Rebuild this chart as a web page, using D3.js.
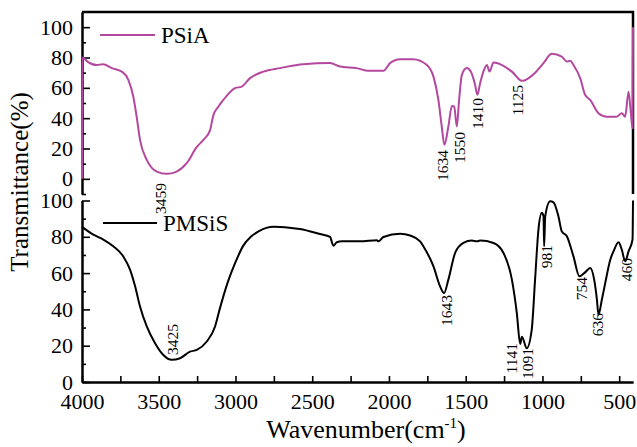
<!DOCTYPE html>
<html>
<head>
<meta charset="utf-8">
<script src="https://cdn.jsdelivr.net/npm/d3@7"></script>
<style>
  body { margin: 0; background: #fff; }
  text { font-family: "Liberation Serif", "Times New Roman", serif; }
</style>
</head>
<body>
<div id="chart"></div>
<script>
// PSiA spectrum (top panel)
const wnA = [4000, 3998, 3960, 3904, 3863, 3806, 3741, 3698, 3666, 3644, 3622, 3578, 3513, 3448, 3383, 3318, 3252, 3209, 3166, 3144, 3112, 3079, 3003, 2959, 2905, 2818, 2710, 2558, 2384, 2318, 2210, 2134, 2036, 1993, 1927, 1841, 1753, 1710, 1678, 1656, 1639, 1613, 1590, 1575, 1558, 1543, 1525, 1493, 1467, 1439, 1424, 1406, 1385, 1362, 1345, 1319, 1254, 1199, 1134, 1047, 993, 939, 874, 841, 819, 798, 754, 722, 689, 635, 581, 516, 483, 461, 439, 424, 413, 410];
const tA = [0, 80, 77, 75, 75.6, 73, 70.7, 65.3, 54.3, 41, 25.7, 12.5, 4.8, 3.3, 4.8, 10.3, 21, 25.7, 32, 42, 47.5, 52, 59.8, 60.8, 66.4, 70.7, 73, 75.6, 76.3, 74, 73, 71.2, 71.2, 76.3, 78.9, 78.9, 75.1, 67.4, 52, 34.5, 22.4, 34.5, 48.1, 47.7, 34.5, 52, 68.6, 73, 70.7, 62, 55.4, 63.1, 70.7, 75.1, 70.7, 76.7, 74.5, 70.7, 64.6, 70, 76.3, 82.4, 80.6, 77.3, 77.8, 75.1, 66.4, 55.4, 52, 43.3, 41, 41, 43.3, 41, 57.5, 43.3, 33.4, 100];

// PMSiS spectrum (bottom panel)
const wnB = [4000, 3926, 3861, 3796, 3731, 3687, 3654, 3622, 3578, 3524, 3470, 3416, 3361, 3296, 3252, 3187, 3133, 3101, 3050, 3000, 2950, 2900, 2850, 2750, 2650, 2580, 2450, 2384, 2362, 2340, 2307, 2188, 2079, 2069, 2036, 1927, 1862, 1797, 1776, 1710, 1667, 1641, 1613, 1569, 1515, 1460, 1428, 1406, 1319, 1254, 1199, 1167, 1145, 1134, 1102, 1070, 1048, 1026, 1004, 993, 989, 982, 950, 928, 896, 874, 841, 798, 759, 722, 689, 663, 645, 635, 613, 591, 558, 537, 504, 483, 461, 439, 413, 410];
const tB = [85.5, 81.2, 78.5, 74.8, 69.2, 61.9, 52.7, 41.6, 30.6, 21.4, 14.9, 12.2, 13.1, 16.7, 17.7, 22.3, 30.6, 40.7, 55, 66, 75, 80, 83, 85.5, 85, 84.3, 81.5, 79.9, 75.1, 77, 77.5, 77.5, 78.1, 77.5, 79.9, 81.7, 80.7, 77.5, 74.8, 63.7, 52.7, 49, 56.4, 71.1, 76.6, 77.9, 77.5, 77.9, 76.6, 71.1, 56.4, 38, 21, 25, 18.6, 28.7, 56.4, 84, 93.2, 91.3, 74.8, 91.3, 99.6, 99, 91.3, 83, 80.3, 69.2, 58.2, 60.4, 62.8, 56.4, 45.3, 37, 45.3, 54.5, 67.4, 72, 77, 72.9, 66.5, 72, 78.5, 100];

// peak labels: text, wavenumber and transmittance where the label sits
const peakTextA = ["3459", "1634", "1550", "1410", "1125"];
const peakWnA = [3453, 1615, 1504, 1386, 1126];
const peakTA = [-2.8, 19, 30.9, 53.3, 61.8];

const peakTextB = ["3425", "1643", "1141", "1091", "981", "754", "636", "460"];
const peakWnB = [3374, 1588, 1165, 1061, 937, 709, 604, 415];
const peakTB = [14.9, 47.9, 21.5, 18.7, 75.5, 57.9, 38, 68.3];

const xMajor = [4000, 3500, 3000, 2500, 2000, 1500, 1000, 500];
const xMinor = [3750, 3250, 2750, 2250, 1750, 1250, 750];
const yMajor = [0, 20, 40, 60, 80, 100];

const width = 637, height = 447;
const left = 82, right = 633;
const magenta = "#b4489e";
const serif = "Liberation Serif, Times New Roman, serif";

const svg = d3.select("#chart")
    .append("svg")
    .attr("width", width)
    .attr("height", height);

const x = d3.scaleLinear().domain([4000, 410]).range([left, right]);
const yTop = d3.scaleLinear().domain([-10, 110]).range([194, 12]);
const yBot = d3.scaleLinear().domain([0, 100]).range([382, 200.5]);

const styleAxis = (g) => {
    g.attr("font-family", serif).attr("font-size", 22);
    g.selectAll(".domain").attr("stroke-width", 2);
    g.selectAll(".tick line").attr("stroke-width", 1.6);
};

// left axes (ticks point inward)
[yTop, yBot].forEach(y => {
    const minorVals = y === yTop ? [-10, 10, 30, 50, 70, 90] : [10, 30, 50, 70, 90];
    svg.append("g")
        .attr("transform", `translate(${left},0)`)
        .call(d3.axisLeft(y).tickValues(minorVals).tickSize(-4).tickSizeOuter(0).tickFormat(""))
        .call(styleAxis);
    svg.append("g")
        .attr("transform", `translate(${left},0)`)
        .call(d3.axisLeft(y).tickValues(yMajor).tickSizeInner(-8).tickSizeOuter(0).tickPadding(9).tickFormat(d3.format("d")))
        .call(styleAxis);
});

// bottom axis
svg.append("g")
    .attr("transform", "translate(0,382)")
    .call(d3.axisBottom(x).tickValues(xMinor).tickSize(-6).tickSizeOuter(0).tickFormat(""))
    .call(styleAxis);
svg.append("g")
    .attr("transform", "translate(0,382)")
    .call(d3.axisBottom(x).tickValues(xMajor).tickSizeInner(-6).tickSizeOuter(0).tickPadding(11).tickFormat(d3.format("d")))
    .call(styleAxis);

// frame of top panel
svg.append("path")
    .attr("d", `M${left},${yTop(110)}H${right}V${yTop(-10)}`)
    .attr("fill", "none")
    .attr("stroke", "#000")
    .attr("stroke-width", 2.5);

// spectra
const drawSpectrum = (wn, t, y, color) => {
    const line = d3.line()
        .x(d => x(d[0]))
        .y(d => y(d[1]))
        .curve(d3.curveMonotoneX);
    svg.append("path")
        .datum(d3.zip(wn, t))
        .attr("d", line)
        .attr("fill", "none")
        .attr("stroke", color)
        .attr("stroke-width", 2)
        .attr("stroke-linejoin", "round");
};
drawSpectrum(wnA, tA, yTop, magenta);
drawSpectrum(wnB, tB, yBot, "#000");

// peak labels, rotated
const drawPeaks = (texts, wn, t, y, startFirst) => {
    texts.forEach((s, i) => {
        svg.append("text")
            .attr("transform", `translate(${x(wn[i])},${y(t[i])}) rotate(-90)`)
            .attr("text-anchor", startFirst && i === 0 ? "start" : "end")
            .attr("font-family", serif)
            .attr("font-size", 15.5)
            .text(s);
    });
};
drawPeaks(peakTextA, peakWnA, peakTA, yTop, false);
drawPeaks(peakTextB, peakWnB, peakTB, yBot, true);

// legends
svg.append("line").attr("x1", 100).attr("x2", 155).attr("y1", 35).attr("y2", 35)
    .attr("stroke", magenta).attr("stroke-width", 2);
svg.append("text").attr("x", 161).attr("y", 43).attr("font-size", 23).text("PSiA");
svg.append("line").attr("x1", 103).attr("x2", 157).attr("y1", 223).attr("y2", 223)
    .attr("stroke", "#000").attr("stroke-width", 2);
svg.append("text").attr("x", 163).attr("y", 231).attr("font-size", 23).text("PMSiS");

// axis titles
const xTitle = svg.append("text")
    .attr("x", 366)
    .attr("y", 438)
    .attr("text-anchor", "middle")
    .attr("font-size", 26);
xTitle.append("tspan").text("Wavenumber(cm");
xTitle.append("tspan").attr("dy", -10).attr("font-size", 15).text("-1");
xTitle.append("tspan").attr("dy", 10).text(")");

svg.append("text")
    .attr("transform", "translate(28,182) rotate(-90)")
    .attr("text-anchor", "middle")
    .attr("font-size", 25)
    .text("Transmittance(%)");
</script>
</body>
</html>
